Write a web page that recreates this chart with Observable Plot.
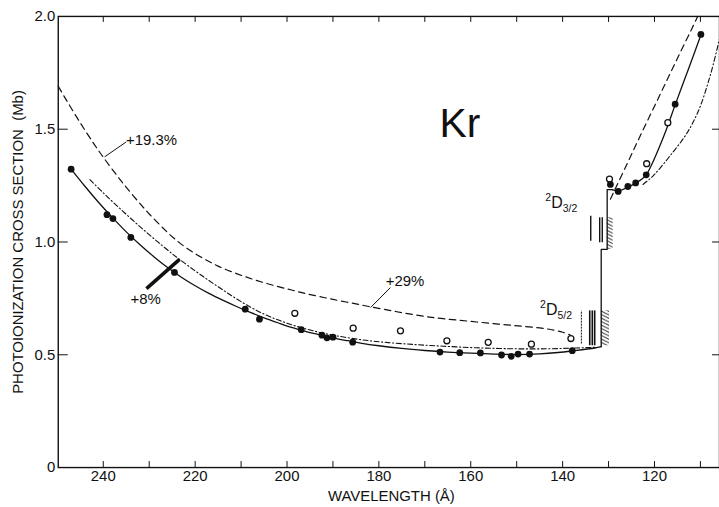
<!DOCTYPE html>
<html>
<head>
<meta charset="utf-8">
<script src="https://cdn.jsdelivr.net/npm/d3@7"></script>
<script src="https://cdn.jsdelivr.net/npm/@observablehq/plot@0.6"></script>
<style>
  html, body { margin: 0; padding: 0; background: #fff; overflow: hidden; }
  svg { display: block; }
</style>
</head>
<body>
<div id="chart"></div>
<script>
// ---- data (wavelength in Å, cross section in Mb) ----
const filledDots = [
  [247.0,1.323],[239.2,1.121],[237.9,1.104],[234.0,1.020],[224.5,0.865],[209.1,0.702],
  [206.0,0.658],[196.9,0.611],[192.4,0.587],[191.3,0.575],[190.0,0.578],[185.7,0.556],
  [166.7,0.512],[162.4,0.509],[157.9,0.508],[153.3,0.499],[151.2,0.493],[149.7,0.503],
  [147.2,0.503],[137.9,0.518],[129.6,1.255],[127.9,1.224],[125.8,1.246],[124.1,1.262],
  [121.8,1.298],[115.5,1.611],[109.9,1.920]
];
const openDots = [
  [198.3,0.684],[185.6,0.618],[175.3,0.606],[165.2,0.562],[156.2,0.555],[146.8,0.547],
  [138.2,0.572],[129.8,1.279],[121.7,1.347],[117.1,1.529]
];
const solidLeft = [
  [247.0,1.323],[244,1.247],[241,1.175],[238,1.108],[235,1.045],[232,0.988],[229,0.935],
  [226,0.887],[223,0.844],[220,0.806],[217,0.772],[214,0.742],[211,0.714],[208,0.688],
  [205,0.664],[202,0.642],[199,0.621],[196,0.604],[193,0.589],[190,0.575],[187,0.563],
  [184,0.552],[180,0.540],[175,0.528],[170,0.519],[165,0.512],[160,0.507],[155,0.503],
  [150,0.501],[145,0.504],[141,0.510],[137.9,0.517],[133,0.530],[131.6,0.536]
];
const solidStep = [[131.6,0.536],[131.6,0.967],[130.3,0.967],[130.3,1.232],[129.2,1.232]];
const solidRight = [
  [129.2,1.232],[127.9,1.226],[125.8,1.243],[124.1,1.261],[122.8,1.278],[121.8,1.298],
  [120.5,1.348],[119,1.418],[117.5,1.494],[115.5,1.608],[113.5,1.718],[111.5,1.828],[109.9,1.918]
];
const dashedLeft = [
  [249.8,1.690],[248,1.628],[245,1.528],[242,1.434],[240,1.376],[237,1.294],[234.9,1.240],
  [232,1.170],[229.9,1.122],[227,1.062],[224.8,1.020],[222,0.975],[218.3,0.928],[215,0.893],
  [211,0.860],[207,0.832],[203,0.808],[199,0.787],[195.9,0.771],[192,0.754],[188.7,0.740],
  [185,0.726],[182.2,0.714],[178,0.698],[174.2,0.684],[170,0.670],[166,0.660],[160.5,0.649],
  [155,0.638],[149.7,0.628],[145,0.619],[142.4,0.611],[140,0.600],[138.4,0.588]
];
const dashedRight = [
  [129.6,1.190],[128.3,1.246],[126,1.345],[124,1.432],[122,1.518],[120,1.602],[118,1.687],
  [116,1.772],[114,1.857],[112,1.940],[110.6,2.0]
];
const dashDotLeft = [
  [242.9,1.276],[240,1.218],[237,1.160],[234,1.104],[231,1.050],[228,0.998],[225,0.948],
  [223.4,0.923],[220,0.872],[217,0.829],[214,0.788],[211,0.748],[208,0.712],[205,0.680],
  [202,0.655],[199,0.633],[196,0.615],[193,0.600],[190,0.587],[186,0.573],[182,0.562],
  [178,0.554],[172,0.545],[166,0.538],[160,0.532],[154,0.528],[148,0.526],[142,0.527],
  [137,0.530],[133,0.533]
];
const dashDotRight = [
  [122.5,1.255],[121,1.280],[120,1.300],[118.6,1.332],[116.5,1.385],
  [114.2,1.445],[112.5,1.497],[111.3,1.543],[110,1.603],[108.45,1.698],[107.2,1.788],[105.85,1.900]
];
// threshold markers: [wavelength, sigma bottom, sigma top]
const d32Lines = [[133.88,1.0035,1.114],[131.93,0.9965,1.107],[131.37,0.9965,1.107]];
const d52Lines = [[134.10,0.540,0.6945],[133.54,0.540,0.6945],[133.02,0.540,0.6945]];
const d52Faint = [[135.92,0.5475,0.6945]];
const hatchBoxes = [[130.3,129.0,0.967,1.107],[131.6,129.8,0.540,0.6945]];
// annotations
const leaderLines = [[239.7,1.3775,235.0,1.4437],[181.8,0.7095,177.5,0.7978]];
const boldBar = [[230.6,0.7934,223.4,0.9227]];
const percentLabels = [[235.05,1.4305,"+19.3%"],[178.5,0.8049,"+29%"],[234.06,0.724,"+8%"]];
const elementLabel = [[166.8,1.466,"Kr"]];
const termLabels = [[143.79,1.151,"3/2"],[144.94,0.6768,"5/2"]];
// axes
const xTickValues = [240,230,220,210,200,190,180,170,160,150,140,130,120,110];
const xLabelValues = [240,220,200,180,160,140,120];
const yLabelValues = [0,0.5,1.0,1.5,2.0];
const yInnerTicks = [0.5,1.0,1.5];
const xTitle = "WAVELENGTH (Å)";
const yTitle = "PHOTOIONIZATION CROSS SECTION \u00a0(Mb)";

const W = 722, H = 507, mL = 58, mR = 0, mT = 16, mB = 38;
const plotW = W - mL - mR, plotH = H - mT - mB;
const ink = "#111";
const X = d => d[0], Y = d => d[1];

const plot = Plot.plot({
  width: W, height: H,
  marginLeft: mL, marginRight: mR, marginTop: mT, marginBottom: mB,
  x: {domain: [249.8, 105.85]},
  y: {domain: [0, 2]},
  style: {fontFamily: "'Liberation Sans', Arial, sans-serif", fontSize: "15px", color: ink, background: "#fff"},
  marks: [
    Plot.axisY(yLabelValues, {tickSize: 0, tickPadding: 3, label: null, fontSize: 15,
      tickFormat: d => d === 0 ? "0" : d.toFixed(1)}),
    Plot.axisX(xLabelValues, {tickSize: 0, tickPadding: 3, label: null, fontSize: 15, tickFormat: d => String(d)}),
    Plot.tickX(xTickValues, {x: d => d, insetTop: plotH - 6, stroke: ink}),
    Plot.tickX(xTickValues, {x: d => d, insetBottom: plotH - 6, stroke: ink}),
    Plot.tickY(yInnerTicks, {y: d => d, insetRight: plotW - 10, stroke: ink}),
    Plot.tickY(yInnerTicks, {y: d => d, insetLeft: plotW - 7, stroke: ink}),
    Plot.frame({stroke: ink, strokeWidth: 1.4}),
    // hatched threshold edges
    Plot.rect(hatchBoxes, {x1: d => d[0], x2: d => d[1], y1: d => d[2], y2: d => d[3], fill: "url(#edgeHatch)"}),
    Plot.ruleX(d32Lines, {x: X, y1: d => d[1], y2: d => d[2], stroke: ink, strokeWidth: 1.4}),
    Plot.ruleX(d52Lines, {x: X, y1: d => d[1], y2: d => d[2], stroke: ink, strokeWidth: 1.6}),
    Plot.ruleX(d52Faint, {x: X, y1: d => d[1], y2: d => d[2], stroke: ink, strokeWidth: 1, strokeDasharray: "2,1"}),
    // curves
    Plot.line(dashedLeft, {x: X, y: Y, stroke: ink, strokeWidth: 1.2, strokeDasharray: "6.5,4.5", curve: "catmull-rom"}),
    Plot.line(dashedRight, {x: X, y: Y, stroke: ink, strokeWidth: 1.2, strokeDasharray: "6.5,4.5", curve: "catmull-rom"}),
    Plot.line(dashDotLeft, {x: X, y: Y, stroke: ink, strokeWidth: 1.1, strokeDasharray: "5,2.5,1.2,2.5", curve: "catmull-rom"}),
    Plot.line(dashDotRight, {x: X, y: Y, stroke: ink, strokeWidth: 1.1, strokeDasharray: "5,2.5,1.2,2.5", curve: "catmull-rom"}),
    Plot.line(solidLeft, {x: X, y: Y, stroke: ink, strokeWidth: 1.3, curve: "catmull-rom"}),
    Plot.line(solidStep, {x: X, y: Y, stroke: ink, strokeWidth: 1.3}),
    Plot.line(solidRight, {x: X, y: Y, stroke: ink, strokeWidth: 1.3, curve: "catmull-rom"}),
    // points
    Plot.dot(openDots, {x: X, y: Y, r: 3, stroke: ink, strokeWidth: 1.3, fill: "#fff"}),
    Plot.dot(filledDots, {x: X, y: Y, r: 3.4, fill: ink, stroke: null}),
    // annotations
    Plot.link(leaderLines, {x1: d => d[0], y1: d => d[1], x2: d => d[2], y2: d => d[3], stroke: ink, strokeWidth: 1}),
    Plot.link(boldBar, {x1: d => d[0], y1: d => d[1], x2: d => d[2], y2: d => d[3], stroke: ink, strokeWidth: 3.6}),
    Plot.text(percentLabels, {x: X, y: Y, text: d => d[2], textAnchor: "start", lineAnchor: "bottom", fontSize: 15, fill: ink}),
    Plot.text(elementLabel, {x: X, y: Y, text: d => d[2], textAnchor: "start", lineAnchor: "bottom", fontSize: 41, fill: ink}),
    Plot.text(termLabels, {x: X, y: Y, text: () => "2", textAnchor: "start", lineAnchor: "bottom", fontSize: 10.5, dy: -6.5, fill: ink}),
    Plot.text(termLabels, {x: X, y: Y, text: () => "D", textAnchor: "start", lineAnchor: "bottom", fontSize: 16, dx: 6.0, fill: ink}),
    Plot.text(termLabels, {x: X, y: Y, text: d => d[2], textAnchor: "start", lineAnchor: "bottom", fontSize: 10.5, dx: 17.6, dy: 3.7, fill: ink}),
    // axis titles
    Plot.text([yTitle], {frameAnchor: "left", text: d => d, rotate: -90, dx: -40.5, textAnchor: "middle", lineAnchor: "middle", fontSize: 15, fill: ink}),
    Plot.text([xTitle], {frameAnchor: "bottom", text: d => d, dx: 2.5, dy: 34, textAnchor: "middle", lineAnchor: "bottom", fontSize: 15, fill: ink})
  ]
});

// hatch pattern used by the threshold-edge rectangles
const defs = d3.select(plot).insert("defs", ":first-child");
const pat = defs.append("pattern")
  .attr("id", "edgeHatch")
  .attr("patternUnits", "userSpaceOnUse")
  .attr("width", 7).attr("height", 3.5);
pat.append("path")
  .attr("d", "M-1,-0.5L8,4M6,-0.5L8,0.5M-1,3L1,4")
  .attr("stroke", ink).attr("stroke-width", 0.9).attr("fill", "none");

document.getElementById("chart").appendChild(plot);
</script>
</body>
</html>
